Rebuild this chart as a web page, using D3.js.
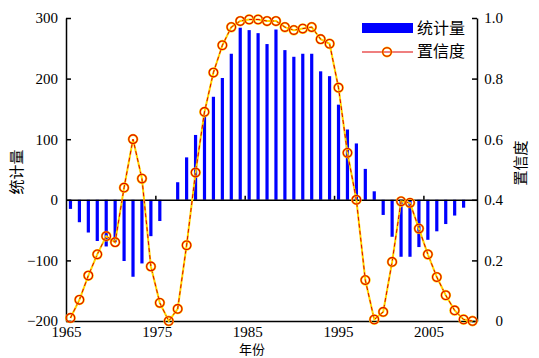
<!DOCTYPE html>
<html>
<head>
<meta charset="utf-8">
<script src="https://cdn.jsdelivr.net/npm/d3@7"></script>
<style>
  body { margin: 0; background: #fff; }
  svg text { font-family: "Liberation Serif", "Times New Roman", serif; }
  .cjk { font-family: "Noto Sans CJK SC", sans-serif; }
</style>
</head>
<body>
<div id="chart"></div>
<script>
// years 1965..2010
var years = [1965,1966,1967,1968,1969,1970,1971,1972,1973,1974,
             1975,1976,1977,1978,1979,1980,1981,1982,1983,1984,
             1985,1986,1987,1988,1989,1990,1991,1992,1993,1994,
             1995,1996,1997,1998,1999,2000,2001,2002,2003,2004,
             2005,2006,2007,2008,2009,2010];
// 统计量 (bars)
var statValues = [-15,-37,-54,-68,-77,-70,-101,-127,-105,-60,
                  -35,0,29,70,107,140,170,201,241,284,
                  280,275,257,281,247,236,241,241,212,204,
                  157,116,93,51,14,-25,-61,-94,-94,-78,
                  -66,-52,-40,-26,-13,0];
// 置信度 (line)
var confValues = [0.01,0.07,0.15,0.22,0.28,0.26,0.44,0.60,0.47,0.18,
                  0.06,0.0,0.04,0.25,0.49,0.69,0.82,0.91,0.97,0.99,
                  0.995,0.995,0.99,0.99,0.97,0.96,0.965,0.97,0.93,0.915,
                  0.77,0.555,0.40,0.135,0.005,0.03,0.195,0.395,0.39,0.305,
                  0.22,0.145,0.085,0.035,0.005,0.0];
var xTicks = [1965, 1975, 1985, 1995, 2005];
var leftTicks = [-200, -100, 0, 100, 200, 300];
var rightTicks = [0, 0.2, 0.4, 0.6, 0.8, 1.0];
var legendNames = ["统计量", "置信度"];

var W = 539, H = 358;
var svg = d3.select("#chart").append("svg")
    .attr("width", W).attr("height", H);

var x = d3.scaleLinear().domain([1965, 2011]).range([66, 477]);
var yL = d3.scaleLinear().domain([-200, 300]).range([321, 18]);
var yR = d3.scaleLinear().domain([0, 1]).range([321, 18]);

var data = years.map(function(y, i) {
    return {year: y, stat: statValues[i], conf: confValues[i]};
});
var cx = function(d) { return x(d.year + 0.5); };

// bars
svg.append("g").selectAll("rect")
    .data(data.filter(function(d) { return d.stat !== 0; }))
    .enter().append("rect")
    .attr("x", function(d) { return cx(d) - 1.6; })
    .attr("width", 3.2)
    .attr("y", function(d) { return yL(Math.max(0, d.stat)); })
    .attr("height", function(d) { return Math.abs(yL(d.stat) - yL(0)); })
    .style("fill", "#0000ff");

// zero line with small ticks
var zeroAxis = svg.append("g")
    .attr("transform", "translate(0," + yL(0) + ")")
    .call(d3.axisTop(x).tickValues(xTicks.slice(1)).tickSize(4).tickSizeOuter(0).tickFormat(""));
zeroAxis.selectAll("path, line").style("stroke", "#000").style("stroke-width", 1.5);

// bottom axis
var bottom = svg.append("g")
    .attr("transform", "translate(0,321)")
    .call(d3.axisBottom(x).tickValues(xTicks).tickSize(0).tickSizeOuter(0).tickPadding(5)
        .tickFormat(d3.format("d")));
bottom.select(".domain").style("stroke", "#000").style("stroke-width", 1.5);
bottom.selectAll("text").style("font-size", "15px").style("fill", "#000")
    .attr("font-family", "Liberation Serif")
    .attr("dx", function(d, i) { return i * 1.3; });

// left axis
var left = svg.append("g")
    .attr("transform", "translate(66,0)")
    .call(d3.axisLeft(yL).tickValues(leftTicks).tickSizeInner(-5).tickSizeOuter(0).tickPadding(8));
left.selectAll("path, line").style("stroke", "#000").style("stroke-width", 1.5);
left.selectAll("text").style("font-size", "15px").style("fill", "#000")
    .attr("font-family", "Liberation Serif");

// right axis
var right = svg.append("g")
    .attr("transform", "translate(477,0)")
    .call(d3.axisRight(yR).tickValues(rightTicks).tickSizeInner(-5).tickSizeOuter(0)
        .tickFormat(function(d) { return d === 0 ? "0" : d3.format(".1f")(d); }));
right.selectAll("path, line").style("stroke", "#000").style("stroke-width", 1.5);
right.selectAll("text").style("font-size", "15px").style("fill", "#000")
    .attr("font-family", "Liberation Serif")
    .attr("text-anchor", "end").attr("x", 26);

// confidence line: yellow under, red dashes over
var line = d3.line().x(cx).y(function(d) { return yR(d.conf); });
svg.append("path").datum(data).attr("d", line)
    .style("fill", "none").style("stroke", "#ffd800").style("stroke-width", 2);
svg.append("path").datum(data).attr("d", line)
    .style("fill", "none").style("stroke", "#e00000").style("stroke-width", 1)
    .style("stroke-dasharray", "4,3");

var marks = svg.append("g").selectAll("g")
    .data(data).enter().append("g")
    .attr("transform", function(d) { return "translate(" + cx(d) + "," + yR(d.conf) + ")"; });
marks.append("circle").attr("r", 4.3)
    .style("fill", "none").style("stroke", "#ffd800").style("stroke-width", 2.2);
marks.append("circle").attr("r", 4.3)
    .style("fill", "none").style("stroke", "#e00000").style("stroke-width", 1.1);

// axis titles
svg.append("text").attr("class", "cjk")
    .attr("transform", "translate(22,172) rotate(-90)")
    .attr("text-anchor", "middle").style("font-size", "15px")
    .text("统计量");
svg.append("text").attr("class", "cjk")
    .attr("transform", "translate(526,163) rotate(-90)")
    .attr("text-anchor", "middle").style("font-size", "15px")
    .text("置信度");
svg.append("text").attr("class", "cjk")
    .attr("x", 252).attr("y", 354)
    .attr("text-anchor", "middle").style("font-size", "13px")
    .text("年份");

// legend
var lg = svg.append("g");
lg.append("rect").attr("x", 362).attr("y", 23).attr("width", 51).attr("height", 10)
    .style("fill", "#0000ff");
lg.append("line").attr("x1", 362).attr("x2", 413).attr("y1", 52).attr("y2", 52)
    .style("stroke", "#e00000").style("stroke-width", 1.2);
lg.append("circle").attr("cx", 387).attr("cy", 52).attr("r", 4.3)
    .style("fill", "none").style("stroke", "#ffd800").style("stroke-width", 2.2);
lg.append("circle").attr("cx", 387).attr("cy", 52).attr("r", 4.3)
    .style("fill", "none").style("stroke", "#e00000").style("stroke-width", 1.1);
lg.selectAll("text.lg").data(legendNames).enter().append("text")
    .attr("class", "cjk")
    .attr("x", 417).attr("y", function(d, i) { return 28 + i * 23; })
    .attr("dy", "0.35em").style("font-size", "16px")
    .text(function(d) { return d; });
</script>
</body>
</html>
